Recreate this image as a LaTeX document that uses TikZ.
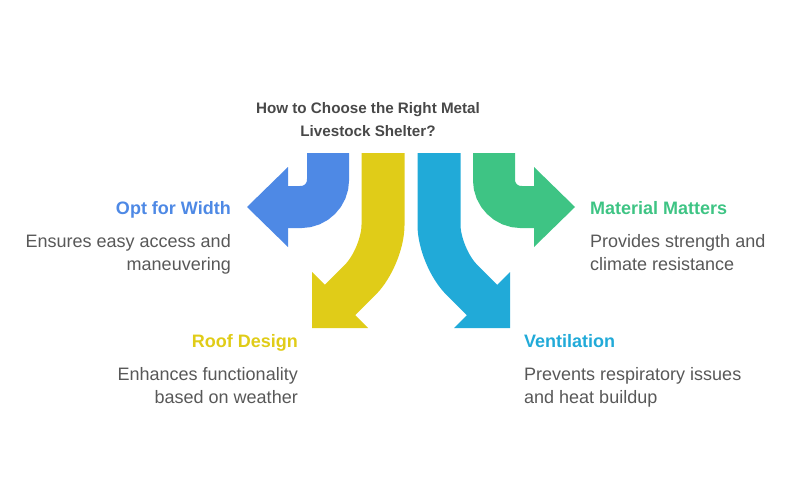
\documentclass[tikz,border=0pt]{standalone}
\usepackage{fontspec}
\setmainfont{Liberation Sans}
\usetikzlibrary{positioning}
\definecolor{optblue}{RGB}{78,137,229}
\definecolor{roofyellow}{RGB}{224,204,24}
\definecolor{ventcyan}{RGB}{33,170,216}
\definecolor{matgreen}{RGB}{62,196,132}
\definecolor{titlegray}{RGB}{72,72,72}
\definecolor{descgray}{RGB}{88,88,88}
\tikzstyle{band} = [line width=42pt, line cap=butt, rounded corners=27pt]
\tikzstyle{title} = [font=\fontsize{15.2}{22.5}\selectfont\bfseries, text=titlegray, align=center, inner sep=0pt]
\tikzstyle{head} = [font=\fontsize{18}{23}\selectfont\bfseries, inner sep=0pt]
\tikzstyle{desc} = [font=\fontsize{18}{23}\selectfont, text=descgray, inner sep=0pt]

\begin{document}
\begin{tikzpicture}[x=1pt, y=-1pt]
			\useasboundingbox (0,0) rectangle (800,500);
			
			\draw [band, optblue] (328,153) -- (328,207) -- (286,207);
			\fill [optblue] (288,167) -- (247,207) -- (288,247) -- cycle;
			\draw [band, matgreen] (494,153) -- (494,207) -- (536,207);
			\fill [matgreen] (534,167) -- (575,207) -- (534,247) -- cycle;
			\draw [band, line width=43pt, rounded corners=32pt, roofyellow] (383,153) -- (383,257) -- (338,302);
			\fill [roofyellow] (312,272) -- (312,328) -- (368,328) -- cycle;
			\draw [band, line width=43pt, rounded corners=32pt, ventcyan] (439,153) -- (439,257) -- (484,302);
			\fill [ventcyan] (510,272) -- (510,328) -- (454,328) -- cycle;
			
			\node [title, anchor=base] (title) at (368,136) {How to Choose the Right Metal\\Livestock Shelter?};
			
			\node [head, text=optblue, anchor=base east] (opt) at (231,214) {Opt for Width};
			\node [desc, align=right, anchor=base east] (optd) at (231,270.5) {Ensures easy access and\\maneuvering};
			\node [head, text=roofyellow, anchor=base east] (roof) at (298,347) {Roof Design};
			\node [desc, align=right, anchor=base east] (roofd) at (298,403.5) {Enhances functionality\\based on weather};
			\node [head, text=matgreen, anchor=base west] (mat) at (590,214) {Material Matters};
			\node [desc, align=left, anchor=base west] (matd) at (590,270.5) {Provides strength and\\climate resistance};
			\node [head, text=ventcyan, anchor=base west] (vent) at (524,347) {Ventilation};
			\node [desc, align=left, anchor=base west] (ventd) at (524,403.5) {Prevents respiratory issues\\and heat buildup};
		\end{tikzpicture}
\end{document}
